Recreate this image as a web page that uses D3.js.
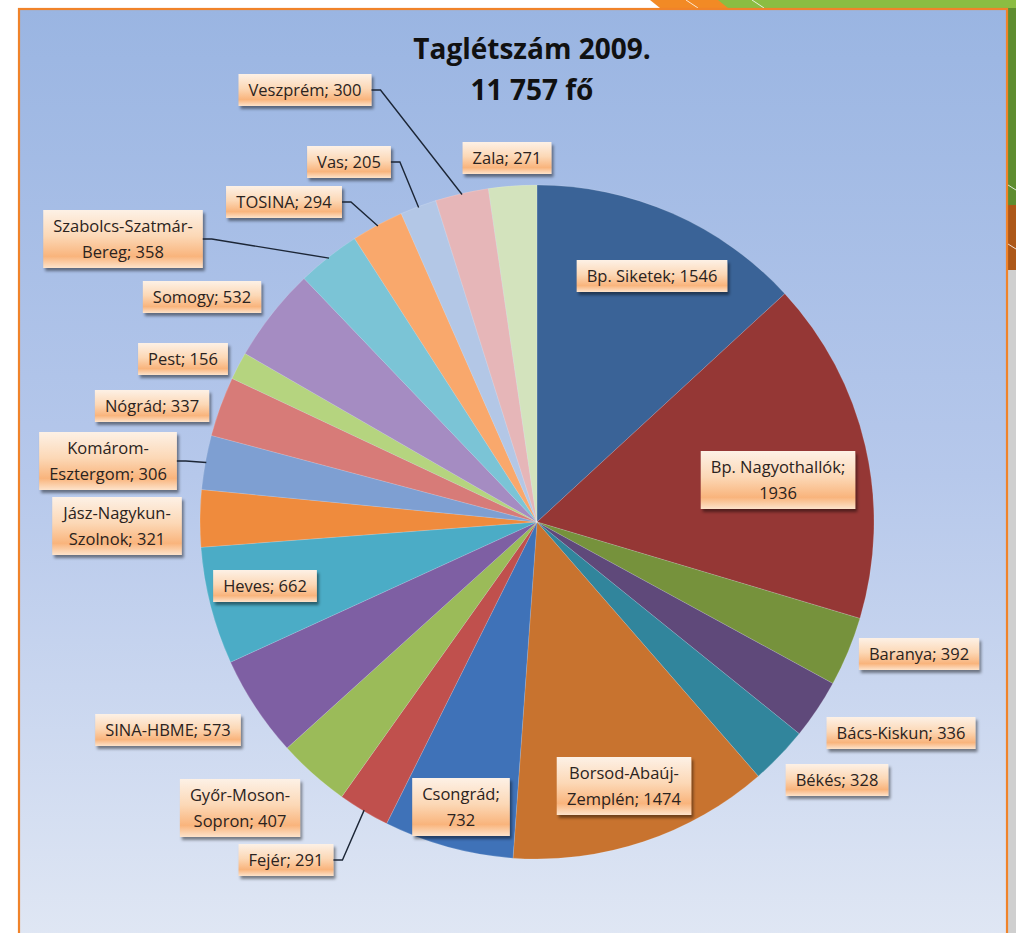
<!DOCTYPE html>
<html>
<head>
<meta charset="utf-8">
<script src="https://cdn.jsdelivr.net/npm/d3@7"></script>
<style>
  html, body { margin: 0; padding: 0; background: #fff; }
  svg { display: block; }
</style>
</head>
<body>
<svg id="chart" width="1016" height="933"></svg>
<script>
// ── Data ───────────────────────────────────────────────────────────────
const categories = [
  'Bp. Siketek', 'Bp. Nagyothallók', 'Baranya', 'Bács-Kiskun', 'Békés',
  'Borsod-Abaúj-Zemplén', 'Csongrád', 'Fejér', 'Győr-Moson-Sopron', 'SINA-HBME',
  'Heves', 'Jász-Nagykun-Szolnok', 'Komárom-Esztergom', 'Nógrád', 'Pest',
  'Somogy', 'Szabolcs-Szatmár-Bereg', 'TOSINA', 'Vas', 'Veszprém', 'Zala'
];
const values = [
  1546, 1936, 392, 336, 328,
  1474, 732, 291, 407, 573,
  662, 321, 306, 337, 156,
  532, 358, 294, 205, 300, 271
];
const titleLines = ['Taglétszám 2009.', '11 757 fő'];

// ── Styling / layout ───────────────────────────────────────────────────
const sliceColors = [
  '#3a6397', '#953735', '#76923c', '#5f497a', '#31859c',
  '#c8732f', '#3f72b8', '#c0504d', '#9bbb59', '#7e5fa3',
  '#4bacc6', '#ef8b3d', '#7e9fd2', '#d77b78', '#b5d47f',
  '#a58cc2', '#7bc4d6', '#f9a86c', '#b3c7e6', '#e6b6b8', '#d3e3bd'
];
// label box centres, wrap flag, leader flag
const labelLayout = {
  'Veszprém':               { c: [305, 90],  leader: true },
  'Vas':                    { c: [349, 162], leader: true },
  'Zala':                   { c: [507, 158] },
  'TOSINA':                 { c: [284, 202], leader: true },
  'Szabolcs-Szatmár-Bereg': { c: [123, 239], wrap: true, leader: true },
  'Somogy':                 { c: [202, 297] },
  'Pest':                   { c: [183, 359] },
  'Nógrád':                 { c: [152, 406] },
  'Komárom-Esztergom':      { c: [108, 461], wrap: true, leader: true },
  'Jász-Nagykun-Szolnok':   { c: [117, 526], wrap: true },
  'Heves':                  { c: [265, 586] },
  'SINA-HBME':              { c: [168, 730] },
  'Győr-Moson-Sopron':      { c: [240, 808], wrap: true },
  'Fejér':                  { c: [286, 860], leader: true },
  'Csongrád':               { c: [461, 807], wrap: true },
  'Borsod-Abaúj-Zemplén':   { c: [624, 786], wrap: true },
  'Békés':                  { c: [837, 780] },
  'Bács-Kiskun':            { c: [901, 733] },
  'Baranya':                { c: [919, 654] },
  'Bp. Nagyothallók':       { c: [778, 480], wrap: true },
  'Bp. Siketek':            { c: [652, 276] }
};

const W = 1016, H = 933;
const cx = 537, cy = 522, R = 337;
const FONT = '"Open Sans", "DejaVu Sans", sans-serif';

const svg = d3.select('#chart');
const defs = svg.append('defs');

// background gradient
const bg = defs.append('linearGradient').attr('id', 'bg')
  .attr('x1', 0).attr('y1', 0).attr('x2', 0).attr('y2', 1);
bg.append('stop').attr('offset', '0%').attr('stop-color', '#9ab5e2');
bg.append('stop').attr('offset', '50%').attr('stop-color', '#b6c8eb');
bg.append('stop').attr('offset', '100%').attr('stop-color', '#e0e7f4');

// label box gradient
const lg = defs.append('linearGradient').attr('id', 'lbl')
  .attr('x1', 0).attr('y1', 0).attr('x2', 0).attr('y2', 1);
lg.append('stop').attr('offset', '0%').attr('stop-color', '#fdf1e6');
lg.append('stop').attr('offset', '45%').attr('stop-color', '#fcd8b6');
lg.append('stop').attr('offset', '80%').attr('stop-color', '#f9b47c');
lg.append('stop').attr('offset', '100%').attr('stop-color', '#fde3cb');

const sh = defs.append('filter').attr('id', 'shadow')
  .attr('x', '-20%').attr('y', '-20%').attr('width', '150%').attr('height', '170%');
sh.append('feDropShadow').attr('dx', 2).attr('dy', 3).attr('stdDeviation', 1.6)
  .attr('flood-color', '#000').attr('flood-opacity', 0.45);

// ── Slide decoration ───────────────────────────────────────────────────
svg.append('rect').attr('width', W).attr('height', H).attr('fill', '#fff');
svg.append('polygon').attr('points', '650,0 722,0 730,8 660,8').attr('fill', '#f28a25');
svg.append('polygon').attr('points', '718,0 1016,0 1016,205 1008,205 1008,8 728,8').attr('fill', '#8bbd42');
svg.append('rect').attr('x', 1008).attr('y', 8).attr('width', 8).attr('height', 197).attr('fill', '#5f8d30');
svg.append('rect').attr('x', 1008).attr('y', 205).attr('width', 8).attr('height', 65).attr('fill', '#ad5819');
svg.append('rect').attr('x', 1008).attr('y', 270).attr('width', 8).attr('height', H - 270).attr('fill', '#cfcfcf');
[[686, 0, 698, 8], [752, 0, 764, 8], [1008, 185, 1016, 190], [1008, 244, 1016, 249]].forEach(p =>
  svg.append('line').attr('x1', p[0]).attr('y1', p[1]).attr('x2', p[2]).attr('y2', p[3])
    .attr('stroke', '#fff').attr('stroke-width', 1).attr('opacity', 0.8));

// chart area
svg.append('rect').attr('x', 19).attr('y', 9).attr('width', 988).attr('height', H)
  .attr('fill', 'url(#bg)').attr('stroke', '#f0832a').attr('stroke-width', 2.2);

// ── Title ──────────────────────────────────────────────────────────────
svg.append('g').selectAll('text').data(titleLines).join('text')
  .attr('x', 532).attr('y', (d, i) => 59 + i * 41)
  .attr('text-anchor', 'middle')
  .attr('font-family', FONT).attr('font-weight', 700).attr('font-size', 28)
  .attr('fill', '#111')
  .text(d => d);

// ── Pie ────────────────────────────────────────────────────────────────
const data = categories.map((name, i) => ({ name, value: values[i], i }));
const pie = d3.pie().value(d => d.value).sort(null);
const arcs = pie(data);
const arc = d3.arc().innerRadius(0).outerRadius(R);
const edge = d3.arc().innerRadius(R - 1).outerRadius(R - 1);

const pg = svg.append('g').attr('transform', `translate(${cx},${cy})`);
pg.selectAll('path').data(arcs).join('path')
  .attr('d', arc)
  .attr('fill', d => sliceColors[d.data.i])
  .attr('stroke', 'rgba(255,255,255,0.25)')
  .attr('stroke-width', 0.6);

// ── Labels ─────────────────────────────────────────────────────────────
function labelLines(d, wrap) {
  const n = d.data.name, v = d.data.value;
  if (!wrap) return [`${n}; ${v}`];
  const k = n.lastIndexOf('-');
  if (k > 0) return [n.slice(0, k + 1), `${n.slice(k + 1)}; ${v}`];
  return [`${n};`, `${v}`];
}

const lineH = 26, padX = 10, fs = 16.5;
const lab = svg.append('g');

arcs.forEach(d => {
  const L = labelLayout[d.data.name];
  const lines = labelLines(d, L.wrap);
  const g = lab.append('g');
  const t = g.append('text')
    .attr('font-family', FONT).attr('font-size', fs).attr('fill', '#2b2320')
    .attr('text-anchor', 'middle');
  lines.forEach((s, j) => {
    t.append('tspan').attr('x', L.c[0])
      .attr('y', L.c[1] + (j - (lines.length - 1) / 2) * lineH + fs * 0.36)
      .text(s);
  });
  const bw = t.node().getBBox().width + padX * 2;
  const bh = lines.length * lineH + 6;
  const x0 = L.c[0] - bw / 2, y0 = L.c[1] - bh / 2;
  g.insert('rect', 'text')
    .attr('x', x0).attr('y', y0).attr('width', bw).attr('height', bh)
    .attr('fill', 'url(#lbl)').attr('filter', 'url(#shadow)');

  if (L.leader) {
    const p = edge.centroid(d);
    const tx = cx + p[0], ty = cy + p[1];
    const sx = x0 + bw, sy = L.c[1];
    const path = d3.path();
    path.moveTo(sx, sy);
    path.lineTo(sx + 9, sy);
    path.lineTo(tx, ty);
    svg.append('path').attr('d', path.toString())
      .attr('fill', 'none').attr('stroke', '#1c2636').attr('stroke-width', 1.4);
  }
});
</script>
</body>
</html>
